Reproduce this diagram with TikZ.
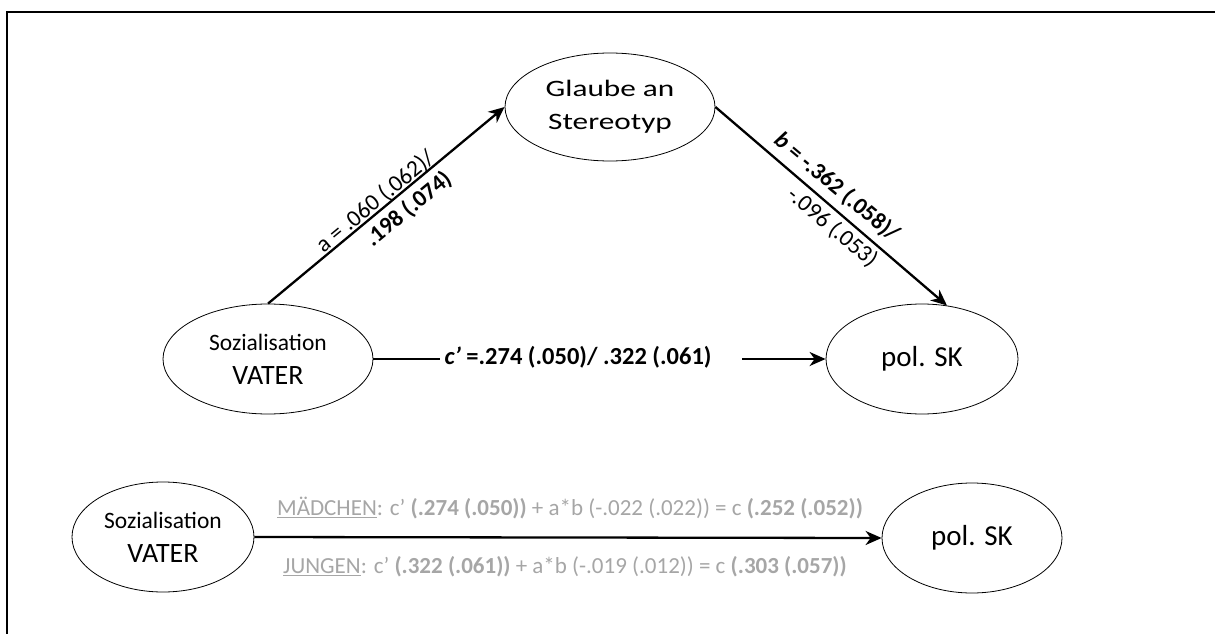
\documentclass[tikz,border=0pt]{standalone}
\usepackage{fontspec}
\setmainfont{Carlito}
\usetikzlibrary{shapes.geometric,arrows.meta}
\definecolor{lgray}{RGB}{166,166,166}
\begin{document}
\begin{tikzpicture}[x=1pt,y=-1pt,
  oval/.style={ellipse,draw,line width=0.8pt,inner sep=0pt,align=center},
  conn/.style={line width=2.3pt,-{Stealth[length=16pt,width=14pt,inset=5pt]}},
  bare/.style={line width=2.3pt},
  big/.style={font=\fontsize{29}{34}\selectfont},
  twoline/.style={font=\fontsize{28}{34}\selectfont},
  lbl/.style={font=\fontsize{23.5}{27}\selectfont,inner sep=0pt},
  glbl/.style={font=\fontsize{23}{28}\selectfont,inner sep=0pt,text=lgray}]
\useasboundingbox (0,0) rectangle (1215,634);
\draw[line width=2pt] (7,634) -- (7,12) -- (1215,12);

% top model
\node[oval,minimum width=210pt,minimum height=108pt,font=\fontsize{23.5}{33}\selectfont] (glaube) at (610,107)
  {\scalebox{1.33}[1]{Glaube an}\\\scalebox{1.33}[1]{Stereotyp}};
\node[oval,twoline,minimum width=210pt,minimum height=110pt] (vater) at (268,359)
  {{\fontsize{23.5}{28}\selectfont Sozialisation}\\VATER};
\node[oval,minimum width=192pt,minimum height=110pt,big] (polsk) at (922,359) {pol. SK};

\draw[conn] (vater.north) -- (glaube.west);
\draw[conn] (glaube.east) -- (polsk.65);
\coordinate (cpl) at (440,359);
\coordinate (cpr) at (742,359);
\draw[bare] (vater.east) -- (cpl);
\draw[conn] (cpr) -- (polsk.west);

\node[lbl,rotate=39.5,align=right] (la) at (384,212)
  {a = .060 (.062)/\\\bfseries .198 (.074)};
\node[lbl,font=\fontsize{23.5}{33.5}\selectfont,rotate=-39.9,align=right] (lb) at (826,200)
  {\bfseries\itshape b\upshape\ = -.362 (.058)/\\-.096 (.053)};
\node[lbl,font=\fontsize{24.5}{28}\selectfont] (lc) at (578,357)
  {\bfseries\itshape c’\upshape\ =.274 (.050)/ .322 (.061)};

% bottom model
\node[oval,twoline,minimum width=182pt,minimum height=110pt] (vater2) at (163,537)
  {{\fontsize{23.5}{28}\selectfont Sozialisation}\\VATER};
\node[oval,minimum width=180pt,minimum height=110pt,big] (polsk2) at (972,538) {pol. SK};
\draw[conn] (vater2.east) -- (polsk2.west);

\node[glbl] (lm) at (570,508) {\underline{MÄDCHEN}: c’ \textbf{(.274 (.050))} + a*b (-.022 (.022)) = c \textbf{(.252 (.052))}};
\node[glbl] (lj) at (565,567) {\underline{JUNGEN}: c’ \textbf{(.322 (.061))} + a*b (-.019 (.012)) = c \textbf{(.303 (.057))}};
\end{tikzpicture}
\end{document}
